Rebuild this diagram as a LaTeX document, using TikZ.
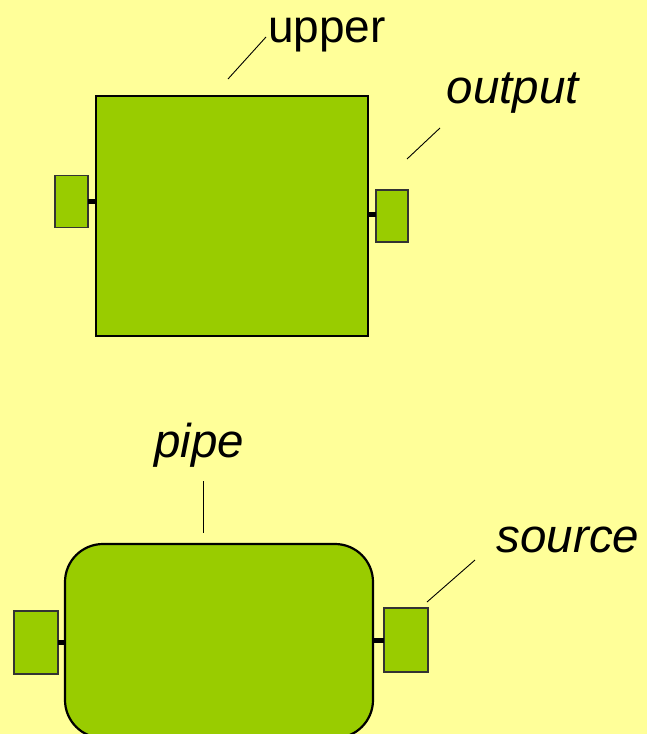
\documentclass[tikz,border=0pt]{standalone}
\usepackage{fontspec}
\setmainfont{Liberation Sans}
\definecolor{bgyellow}{HTML}{FFFF99}
\definecolor{boxgreen}{HTML}{99CC00}
\tikzset{
  block/.style={draw=black,fill=boxgreen,line width=2.2pt,inner sep=0pt,outer sep=0pt},
  port/.style={draw=black!80,fill=boxgreen,line width=1.6pt,inner sep=0pt,outer sep=0pt},
  link/.style={line width=5pt},
  tag/.style={anchor=base,font=\fontsize{46}{50}\selectfont},
  itag/.style={tag,font=\fontsize{47.5}{52}\selectfont\itshape},
  leader/.style={line width=0.9pt}
}
\begin{document}
\begin{tikzpicture}[x=1pt,y=-1pt]
        \useasboundingbox (0,0) rectangle (647,734);
        \clip (0,0) rectangle (647,734);
        \fill[bgyellow] (0,0) rectangle (647,734);

        \node[block,minimum width=272pt,minimum height=240pt] (upper) at (232,216) {};
        \node[port,minimum width=33pt,minimum height=52pt] (upperin) at (71.5,201.5) {};
        \node[port,minimum width=32pt,minimum height=52pt] (upperout) at (392,216) {};
        \draw[link] (upperin.east) -- (upperin.east -| upper.west);
        \draw[link] (upperout.west |- 0,214) -- (upper.east |- 0,214);

        \node[block,rounded corners=38pt,minimum width=308pt,minimum height=194pt] (pipe) at (219,641) {};
        \node[port,minimum width=44pt,minimum height=63pt] (pipein) at (36,642.5) {};
        \node[port,minimum width=44pt,minimum height=64pt] (source) at (406,640) {};
        \draw[link] (pipein.east) -- (pipein.east -| pipe.west);
        \draw[link] (source.west) -- (source.west -| pipe.east);

        \node[tag] (uppertag) at (327,42) {upper};
        \node[itag] (outputtag) at (513,103) {output};
        \node[itag] (pipetag) at (199,457) {pipe};
        \node[itag] (sourcetag) at (568,552) {source};

        \coordinate (ua) at (228,79);
        \coordinate (ub) at (266,37);
        \coordinate (oa) at (407,159);
        \coordinate (ob) at (440,128);
        \coordinate (pa) at (203,481);
        \coordinate (pb) at (203,533);
        \coordinate (sa) at (427,602);
        \coordinate (sb) at (475,560);
        \draw[leader] (ua) -- (ub);
        \draw[leader] (oa) -- (ob);
        \draw[leader] (pa) -- (pb);
        \draw[leader] (sa) -- (sb);
    \end{tikzpicture}
\end{document}
